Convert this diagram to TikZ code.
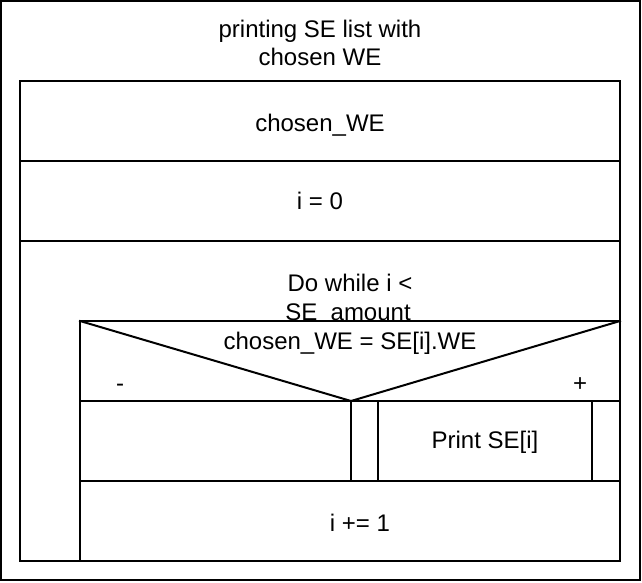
\documentclass[tikz,border=0pt]{standalone}
\usepackage{fontspec}
\setmainfont{Liberation Sans}
\begin{document}
\begin{tikzpicture}[x=1pt,y=-1pt,
  ln/.style={line width=2pt,line cap=rect},
  lbl/.style={anchor=base,inner sep=0pt,font=\fontsize{24}{28}\selectfont}]
\useasboundingbox (0,0) rectangle (642,582);
% outer frame
\draw[ln] (1,1) rectangle (640,580);
% title
\node[lbl] (title1) at (320,37) {printing SE list with};
\node[lbl] (title2) at (320,65) {chosen WE};
% sequence blocks
\draw[ln] (20,81) rectangle (620,561);
\draw[ln] (20,161) -- (620,161);
\draw[ln] (20,241) -- (620,241);
\node[lbl] (chosen) at (320,131) {chosen\_WE};
\node[lbl] (izero) at (320,209) {i = 0};
% loop header
\node[lbl] (loop1) at (350,291) {Do while i <};
\node[lbl] (loop2) at (348,320) {SE\_amount};
% loop body
\draw[ln,fill=white] (80,321) rectangle (620,561);
\draw[ln] (80,321) -- (351,401) -- (620,321);
\draw[ln] (80,401) -- (620,401);
\draw[ln] (351,401) -- (351,481);
\draw[ln] (378,401) -- (378,481);
\draw[ln] (592,401) -- (592,481);
\draw[ln] (80,481) -- (620,481);
\node[lbl] (cond) at (350,349) {chosen\_WE = SE[i].WE};
\node[lbl] (minus) at (120,391) {-};
\node[lbl] (plus) at (580,391) {+};
\node[lbl] (print) at (485,448) {Print SE[i]};
\node[lbl] (inc) at (360,531) {i += 1};
\end{tikzpicture}
\end{document}
